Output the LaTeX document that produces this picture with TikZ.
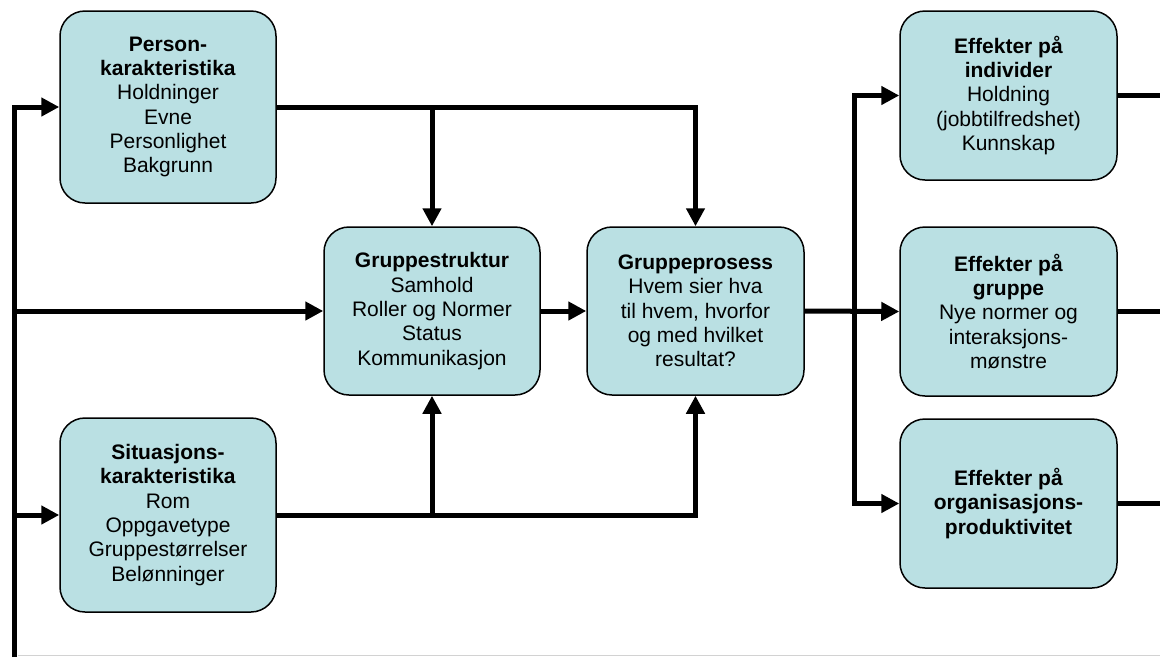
\documentclass[tikz,border=0pt]{standalone}
\usepackage{fontspec}
\setmainfont{Liberation Sans}
\usetikzlibrary{arrows.meta,calc}
\definecolor{boxfill}{RGB}{186,224,227}
\begin{document}
\begin{tikzpicture}[x=1pt,y=-1pt,
  boxstyle/.style={draw=black, line width=1.5pt, fill=boxfill, rounded corners=25pt,
    align=center, inner sep=0pt, font=\fontsize{21}{24.3}\selectfont},
  conn/.style={line width=5pt, draw=black},
  arr/.style={conn, -{Triangle[length=18pt,width=18pt]}}]
\useasboundingbox (0,0) rectangle (1160,657);
% boxes
\node[boxstyle, minimum width=216pt, minimum height=192pt] (person) at (168,107) {\textbf{Person-}\\\textbf{karakteristika}\\Holdninger\\Evne\\Personlighet\\Bakgrunn};
\node[boxstyle, minimum width=216pt, minimum height=194pt] (situ) at (168,515) {\textbf{Situasjons-}\\\textbf{karakteristika}\\Rom\\Oppgavetype\\Gruppestørrelser\\Belønninger};
\node[boxstyle, minimum width=216pt, minimum height=168pt] (struct) at (432,311) {\textbf{Gruppestruktur}\\Samhold\\Roller og Normer\\Status\\Kommunikasjon};
\node[boxstyle, minimum width=217pt, minimum height=168pt] (proc) at (695.5,311) {\textbf{Gruppeprosess}\\Hvem sier hva\\til hvem, hvorfor\\og med hvilket\\resultat?};
\node[boxstyle, minimum width=217pt, minimum height=169pt] (ind) at (1008.5,95.5) {\textbf{Effekter på}\\\textbf{individer}\\Holdning\\(jobbtilfredshet)\\Kunnskap};
\node[boxstyle, minimum width=217pt, minimum height=169pt] (grp) at (1008.5,311.5) {\textbf{Effekter på}\\\textbf{gruppe}\\Nye normer og\\interaksjons-\\mønstre};
\node[boxstyle, minimum width=217pt, minimum height=169pt] (org) at (1008.5,503.5) {\textbf{Effekter på}\\\textbf{organisasjons-}\\\textbf{produktivitet}};
% helper coordinates
\coordinate (lb) at (14,657);
\coordinate (jn) at (854,311);
\coordinate (re) at (1160,0);
% bottom frame line
\draw[gray!35, line width=1pt] (18,655.5) -- (1160,655.5);
% left feeder
\draw[arr] (lb) |- (person.west);
\draw[arr] (lb |- struct.west) -- (struct.west);
\draw[arr] (lb |- situ.west) -- (situ.west);
% person outputs
\draw[arr] (person.east) -| (proc.north);
\draw[arr] (person.east -| struct.north) -- (struct.north);
% situation outputs
\draw[arr] (situ.east) -| (proc.south);
\draw[arr] (situ.east -| struct.south) -- (struct.south);
% structure to process
\draw[arr] (struct.east) -- (proc.west);
% process to effects
\draw[arr] (proc.east) -- (grp.west);
\draw[arr] (jn) |- (ind.west);
\draw[arr] (jn) |- (org.west);
% outputs on the right
\draw[conn] (ind.east) -- (ind.east -| re);
\draw[conn] (grp.east) -- (grp.east -| re);
\draw[conn] (org.east) -- (org.east -| re);
\end{tikzpicture}
\end{document}
